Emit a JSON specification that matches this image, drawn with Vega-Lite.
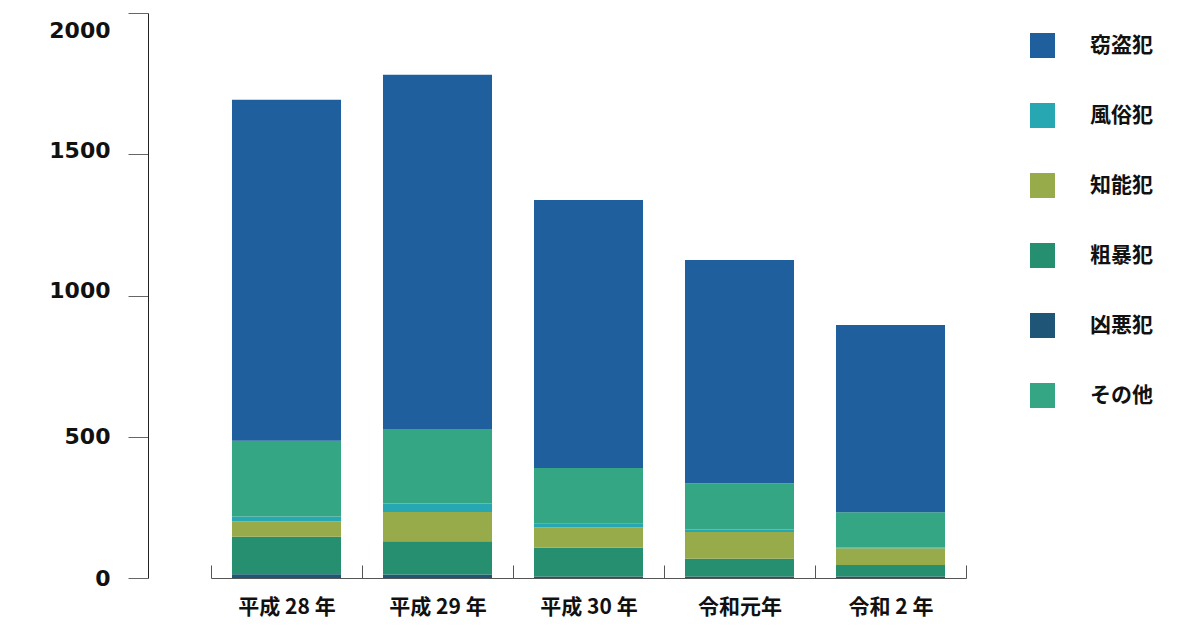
{
  "$schema": "https://vega.github.io/schema/vega-lite/v6.json",
  "autosize": {"type": "none"},
  "padding": {"left": 211, "top": 13, "right": 234, "bottom": 52},
  "width": 755,
  "height": 565,
  "background": "white",
  "data": {
    "values": [
      {"year": "平成 28 年", "type": "凶悪犯", "order": 1, "value": 13},
      {"year": "平成 28 年", "type": "粗暴犯", "order": 2, "value": 133},
      {"year": "平成 28 年", "type": "知能犯", "order": 3, "value": 54},
      {"year": "平成 28 年", "type": "風俗犯", "order": 4, "value": 18},
      {"year": "平成 28 年", "type": "その他", "order": 5, "value": 268},
      {"year": "平成 28 年", "type": "窃盗犯", "order": 6, "value": 1207},
      {"year": "平成 29 年", "type": "凶悪犯", "order": 1, "value": 12},
      {"year": "平成 29 年", "type": "粗暴犯", "order": 2, "value": 118},
      {"year": "平成 29 年", "type": "知能犯", "order": 3, "value": 104},
      {"year": "平成 29 年", "type": "風俗犯", "order": 4, "value": 30},
      {"year": "平成 29 年", "type": "その他", "order": 5, "value": 263},
      {"year": "平成 29 年", "type": "窃盗犯", "order": 6, "value": 1254},
      {"year": "平成 30 年", "type": "凶悪犯", "order": 1, "value": 5},
      {"year": "平成 30 年", "type": "粗暴犯", "order": 2, "value": 102},
      {"year": "平成 30 年", "type": "知能犯", "order": 3, "value": 72},
      {"year": "平成 30 年", "type": "風俗犯", "order": 4, "value": 15},
      {"year": "平成 30 年", "type": "その他", "order": 5, "value": 195},
      {"year": "平成 30 年", "type": "窃盗犯", "order": 6, "value": 949},
      {"year": "令和元年", "type": "凶悪犯", "order": 1, "value": 5},
      {"year": "令和元年", "type": "粗暴犯", "order": 2, "value": 63},
      {"year": "令和元年", "type": "知能犯", "order": 3, "value": 95},
      {"year": "令和元年", "type": "風俗犯", "order": 4, "value": 9},
      {"year": "令和元年", "type": "その他", "order": 5, "value": 163},
      {"year": "令和元年", "type": "窃盗犯", "order": 6, "value": 791},
      {"year": "令和 2 年", "type": "凶悪犯", "order": 1, "value": 5},
      {"year": "令和 2 年", "type": "粗暴犯", "order": 2, "value": 41},
      {"year": "令和 2 年", "type": "知能犯", "order": 3, "value": 59},
      {"year": "令和 2 年", "type": "風俗犯", "order": 4, "value": 3},
      {"year": "令和 2 年", "type": "その他", "order": 5, "value": 125},
      {"year": "令和 2 年", "type": "窃盗犯", "order": 6, "value": 663}
    ]
  },
  "mark": {"type": "bar", "width": {"band": 0.722}},
  "encoding": {
    "x": {
      "field": "year",
      "type": "nominal",
      "sort": null,
      "scale": {"paddingInner": 0, "paddingOuter": 0},
      "axis": {
        "title": null,
        "labelAngle": 0,
        "labelFont": "Noto Sans CJK JP",
        "labelFontWeight": "bold",
        "labelFontSize": 21,
        "labelColor": "#111111",
        "labelPadding": 31,
        "tickBand": "extent",
        "tickSize": -13,
        "tickColor": "#555555",
        "domainColor": "#555555",
        "domainWidth": 1
      }
    },
    "y": {
      "field": "value",
      "type": "quantitative",
      "aggregate": "sum",
      "stack": "zero",
      "scale": {"domain": [0, 2000], "nice": false},
      "axis": {
        "title": null,
        "values": [0, 500, 1000, 1500, 2000],
        "format": "d",
        "grid": false,
        "offset": 63,
        "tickSize": 20,
        "tickColor": "#666666",
        "domainColor": "#222222",
        "labelFont": "DejaVu Sans",
        "labelFontWeight": "bold",
        "labelFontSize": 22,
        "labelColor": "#111111",
        "labelPadding": 18,
        "labelOffset": {"condition": [
          {"test": "datum.value == 2000", "value": 17},
          {"test": "datum.value == 1500", "value": -4},
          {"test": "datum.value == 1000", "value": -5}
        ], "value": 0}
      }
    },
    "color": {
      "field": "type",
      "type": "nominal",
      "sort": ["窃盗犯", "風俗犯", "知能犯", "粗暴犯", "凶悪犯", "その他"],
      "scale": {
        "domain": ["窃盗犯", "風俗犯", "知能犯", "粗暴犯", "凶悪犯", "その他"],
        "range": ["#1f5f9e", "#27a7b1", "#98ab4b", "#268f6f", "#1f5577", "#35a683"]
      },
      "legend": {
        "title": null,
        "orient": "none",
        "legendX": 819,
        "legendY": 20,
        "symbolType": "square",
        "symbolSize": 625,
        "symbolStrokeWidth": 0,
        "symbolOpacity": 1,
        "rowPadding": 45,
        "labelOffset": 35,
        "labelFont": "Noto Sans CJK JP",
        "labelFontWeight": "bold",
        "labelFontSize": 21,
        "labelColor": "#111111"
      }
    },
    "order": {"field": "order", "type": "quantitative"}
  },
  "config": {"view": {"stroke": null}}
}
